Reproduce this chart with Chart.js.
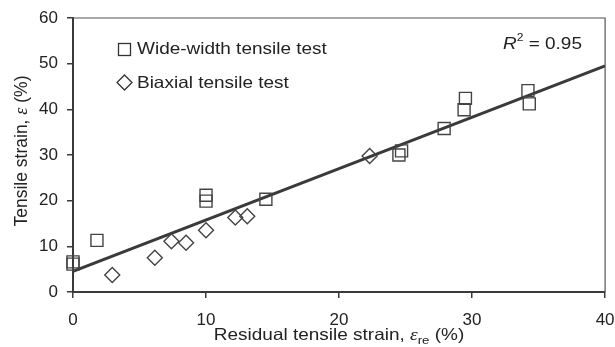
<!DOCTYPE html>
<html lang="en">
<head>
<meta charset="UTF-8">
<title>Tensile strain vs residual tensile strain</title>
<script src="https://cdn.jsdelivr.net/npm/chart.js"></script>
<style>
    body { margin: 0; padding: 0; background: #fff; }
    .chart-container { width: 615px; height: 347px; position: relative; }
</style>
</head>
<body>
<div class="chart-container">
    <canvas id="strainChart"></canvas>
</div>
<script>
    // data
    var wideX = [0, 0, 1.8, 10, 10, 14.5, 24.5, 24.7, 27.9, 29.4, 29.5, 34.2, 34.3];
    var wideY = [6.1, 6.6, 11.3, 21.2, 19.9, 20.3, 30.0, 30.9, 35.8, 39.9, 42.4, 44.1, 41.2];
    var biaxX = [2.95, 6.15, 7.4, 8.5, 10.0, 12.2, 13.1, 22.3];
    var biaxY = [3.7, 7.5, 11.1, 10.8, 13.5, 16.3, 16.6, 29.8];
    var fitX = [0, 40];
    var fitY = [4.5, 49.5];
    var xTicks = [0, 10, 20, 30, 40];
    var yTicks = [0, 10, 20, 30, 40, 50, 60];

    function pts(xs, ys) {
        return xs.map(function (x, i) { return { x: x, y: ys[i] }; });
    }

    var ink = '#3a3a3a';
    var fontFam = '"Liberation Sans", Arial, sans-serif';
    var serifIt = 'italic 17px "Liberation Serif", serif';
    var stretch = 1.15; // the original figure's lettering is a bit wide

    // draws runs of [text, font, dy] left to right, stretched horizontally
    function drawRuns(ctx, runs, x, y, sx, align) {
        var total = 0;
        runs.forEach(function (r) { ctx.font = r[1]; total += ctx.measureText(r[0]).width; });
        ctx.save();
        ctx.translate(x, y);
        ctx.scale(sx, 1);
        var cx = align === 'center' ? -total / 2 : 0;
        runs.forEach(function (r) {
            ctx.font = r[1];
            ctx.fillText(r[0], cx, r[2] || 0);
            cx += ctx.measureText(r[0]).width;
        });
        ctx.restore();
    }

    // frame, legend, R² and axis titles (mixed italic / subscript text)
    var decorations = {
        id: 'decorations',
        afterDraw: function (chart) {
            var ctx = chart.ctx;
            var a = chart.chartArea;
            ctx.save();
            // top and right frame
            ctx.strokeStyle = '#555';
            ctx.lineWidth = 1.2;
            ctx.beginPath();
            ctx.moveTo(a.left, a.top);
            ctx.lineTo(a.right, a.top);
            ctx.lineTo(a.right, a.bottom);
            ctx.stroke();

            ctx.fillStyle = '#222';
            ctx.strokeStyle = '#333';
            ctx.lineWidth = 1.3;
            ctx.textBaseline = 'alphabetic';
            ctx.textAlign = 'left';

            // legend
            ctx.strokeRect(118.5, 43.5, 12, 12);
            ctx.beginPath();
            ctx.moveTo(124.5, 75);
            ctx.lineTo(132, 82.5);
            ctx.lineTo(124.5, 90);
            ctx.lineTo(117, 82.5);
            ctx.closePath();
            ctx.stroke();
            var f = '16.5px ' + fontFam;
            drawRuns(ctx, [['Wide-width tensile test', f]], 137, 54, stretch);
            drawRuns(ctx, [['Biaxial tensile test', f]], 137, 88, stretch);

            // R² = 0.95
            drawRuns(ctx, [
                ['R', 'italic 16.5px ' + fontFam],
                ['2', '10.5px ' + fontFam, -8],
                [' = ', f],
                ['0.95', f]
            ], 503, 49, stretch);

            // x title
            drawRuns(ctx, [
                ['Residual tensile strain, ', f],
                ['\u03b5', serifIt],
                ['re', '11.5px ' + fontFam, 4],
                [' (%)', f]
            ], (a.left + a.right) / 2, 340, stretch, 'center');

            // y title (rotated, so no stretch along its length)
            ctx.translate(27, 151);
            ctx.rotate(-Math.PI / 2);
            drawRuns(ctx, [
                ['Tensile strain, ', '17.5px ' + fontFam],
                ['\u03b5', 'italic 18px "Liberation Serif", serif'],
                [' (%)', '17.5px ' + fontFam]
            ], 0, 0, 1, 'center');
            ctx.restore();
        }
    };

    var ctx = document.getElementById('strainChart').getContext('2d');
    var strainChart = new Chart(ctx, {
        type: 'scatter',
        data: {
            datasets: [{
                label: 'Fit',
                data: pts(fitX, fitY),
                showLine: true,
                borderColor: ink,
                borderWidth: 3,
                pointRadius: 0,
                order: 2
            }, {
                label: 'Wide-width tensile test',
                data: pts(wideX, wideY),
                pointStyle: 'rect',
                pointRadius: 8.5,
                borderColor: '#444',
                borderWidth: 1.4,
                backgroundColor: 'rgba(0,0,0,0)',
                clip: false,
                order: 1
            }, {
                label: 'Biaxial tensile test',
                data: pts(biaxX, biaxY),
                pointStyle: 'rectRot',
                pointRadius: 7.5,
                borderColor: '#444',
                borderWidth: 1.4,
                backgroundColor: 'rgba(0,0,0,0)',
                clip: false,
                order: 1
            }]
        },
        options: {
            responsive: true,
            maintainAspectRatio: false,
            animation: false,
            layout: { padding: { top: 18, right: 9, left: 0, bottom: 0 } },
            plugins: {
                legend: { display: false },
                tooltip: { enabled: false }
            },
            scales: {
                x: {
                    type: 'linear',
                    min: 0,
                    max: 40,
                    afterBuildTicks: function (s) { s.ticks = xTicks.map(function (v) { return { value: v }; }); },
                    afterFit: function (s) { s.height = 55; s.paddingLeft = 0; s.paddingRight = 0; },
                    grid: { drawOnChartArea: false, tickLength: 6, color: ink, lineWidth: 1.5 },
                    border: { color: ink, width: 2 },
                    ticks: { color: '#222', padding: 12, maxRotation: 0, font: { size: 17, family: fontFam } }
                },
                y: {
                    min: 0,
                    max: 60,
                    afterBuildTicks: function (s) { s.ticks = yTicks.map(function (v) { return { value: v }; }); },
                    afterFit: function (s) { s.width = 73; s.paddingTop = 0; s.paddingBottom = 0; },
                    grid: { drawOnChartArea: false, tickLength: 6, color: ink, lineWidth: 1.5 },
                    border: { color: ink, width: 2 },
                    ticks: { color: '#222', padding: 9, font: { size: 17, family: fontFam } }
                }
            }
        },
        plugins: [decorations]
    });
</script>
</body>
</html>
